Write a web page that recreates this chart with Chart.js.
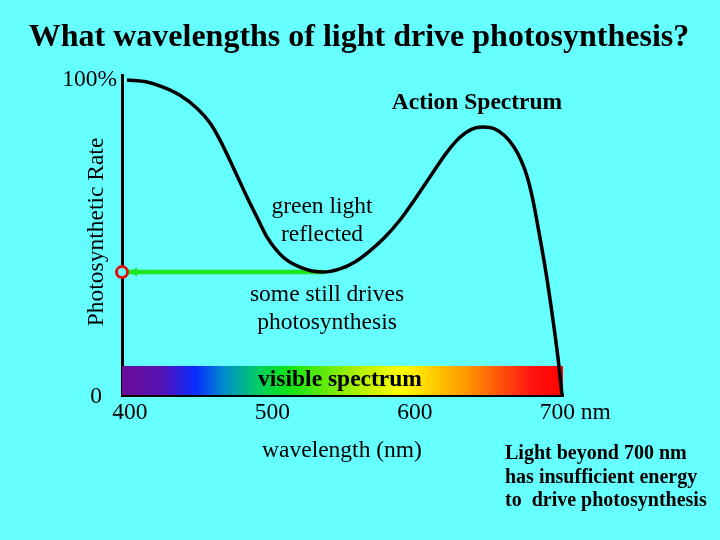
<!DOCTYPE html>
<html>
<head>
<meta charset="utf-8">
<script src="https://cdn.jsdelivr.net/npm/chart.js@4/dist/chart.umd.min.js"></script>
<style>
  html, body { margin: 0; padding: 0; background: #66ffff; }
  #wrap { width: 720px; height: 540px; position: relative; }
</style>
</head>
<body>
<div id="wrap"><canvas id="c" width="720" height="540"></canvas></div>
<script>
// ---- data ----
const wavelengths = [398, 412, 423.3, 435.2, 447.1, 456.3, 463.3, 472.4, 482.2, 489.2, 496.3, 507.5, 519.4, 535.6, 547.5, 558, 568.5, 579.1, 589.6, 600.1, 610.6, 622.6, 631.7, 640.1, 647.8, 656.3, 663.3, 669.6, 674.5, 678.7, 682.9, 687.1, 692, 697, 700.5, 703.3];
const rates       = [99.7, 99.1, 97.5, 94.9, 90.8, 86.1, 80.7, 72.2, 62.7, 56.3, 50.0, 43.7, 40.5, 38.9, 39.9, 42.1, 45.6, 50.0, 55.4, 62.0, 69.0, 76.9, 81.6, 84.2, 84.8, 84.2, 82.0, 78.5, 74.4, 69.3, 61.7, 51.6, 38.9, 23.7, 11.7, 0];
const tickValues  = [400, 500, 600, 700];
const tickLabels  = ['400', '500', '600', '700'];
const arrowFromNm = 536;     // green light minimum
const arrowToNm   = 394.5;   // axis
const arrowRate   = 38.9;
const spectrumNm     = [394.5, 421, 446, 467, 491, 512, 567, 591, 635, 682, 704];
const spectrumColors = ['#6a0f96', '#5a12b4', '#0a2cff', '#0090c8', '#00d060', '#12e412', '#c4f200', '#ffff00', '#ff9a00', '#ff1410', '#ff0000'];
const spectrumTopRate = 9.2;

const SERIF = '"Liberation Serif", "Times New Roman", serif';
const BG = '#66ffff';

const bgPlugin = {
  id: 'bg',
  beforeDraw(chart) {
    const ctx = chart.ctx;
    ctx.save();
    ctx.fillStyle = BG;
    ctx.fillRect(0, 0, chart.width, chart.height);
    ctx.restore();
  }
};

const spectrumPlugin = {
  id: 'spectrum',
  beforeDatasetsDraw(chart) {
    const ctx = chart.ctx, xs = chart.scales.x, ys = chart.scales.y;
    const x0 = xs.getPixelForValue(spectrumNm[0]);
    const x1 = xs.getPixelForValue(spectrumNm[spectrumNm.length - 1]);
    const yTop = ys.getPixelForValue(spectrumTopRate);
    const yBot = ys.getPixelForValue(0);
    const g = ctx.createLinearGradient(x0, 0, x1, 0);
    spectrumNm.forEach((nm, i) => {
      g.addColorStop((xs.getPixelForValue(nm) - x0) / (x1 - x0), spectrumColors[i]);
    });
    ctx.save();
    ctx.fillStyle = g;
    ctx.fillRect(x0, yTop, x1 - x0, yBot - yTop);
    ctx.restore();
  }
};

function txt(ctx, s, x, y, font, align) {
  ctx.font = font;
  ctx.textAlign = align || 'center';
  ctx.textBaseline = 'middle';
  ctx.fillText(s, x, y);
}

const annoPlugin = {
  id: 'anno',
  afterDatasetsDraw(chart) {
    const ctx = chart.ctx, xs = chart.scales.x, ys = chart.scales.y;
    ctx.save();
    // arrowhead
    const tipX = xs.getPixelForValue(arrowToNm) + 7;
    const ay = ys.getPixelForValue(arrowRate);
    ctx.fillStyle = '#1ee61e';
    ctx.beginPath();
    ctx.moveTo(tipX, ay);
    ctx.lineTo(tipX + 8, ay - 4.5);
    ctx.lineTo(tipX + 8, ay + 4.5);
    ctx.closePath();
    ctx.fill();

    ctx.fillStyle = '#000';
    const N = '23.5px ' + SERIF;
    const B = 'bold 23.5px ' + SERIF;
    // title
    txt(ctx, 'What wavelengths of light drive photosynthesis?', 359, 38, 'bold 32px ' + SERIF);
    // y labels
    txt(ctx, '100%', 117, 80, N, 'right');
    txt(ctx, '0', 96, 397, N);
    ctx.save();
    ctx.translate(97, 232);
    ctx.rotate(-Math.PI / 2);
    txt(ctx, 'Photosynthetic Rate', 0, 0, N);
    ctx.restore();
    // x tick labels
    tickValues.forEach((v, i) => {
      txt(ctx, tickLabels[i], xs.getPixelForValue(v), 413, N);
    });
    ctx.font = N;
    const w700 = ctx.measureText('700').width;
    txt(ctx, ' nm', xs.getPixelForValue(700) + w700 / 2, 413, N, 'left');
    txt(ctx, 'wavelength (nm)', 342, 451, N);
    // annotations
    txt(ctx, 'Action Spectrum', 477, 103, B);
    txt(ctx, 'green light', 322, 207, N);
    txt(ctx, 'reflected', 322, 235, N);
    txt(ctx, 'some still drives', 327, 295, N);
    txt(ctx, 'photosynthesis', 327, 323, N);
    txt(ctx, 'visible spectrum', 340, 380, B);
    const S = 'bold 20px ' + SERIF;
    txt(ctx, 'Light beyond 700 nm', 505, 454, S, 'left');
    txt(ctx, 'has insufficient energy', 505, 478, S, 'left');
    txt(ctx, 'to  drive photosynthesis', 505, 501, S, 'left');
    ctx.restore();
  }
};

new Chart(document.getElementById('c'), {
  type: 'line',
  data: {
    datasets: [
      {
        data: wavelengths.map((w, i) => ({ x: w, y: rates[i] })),
        borderColor: '#000',
        borderWidth: 3.5,
        pointRadius: 0,
        cubicInterpolationMode: 'monotone',
        fill: false,
        clip: false,
        order: 1
      },
      {
        data: [{ x: arrowToNm, y: arrowRate }, { x: arrowFromNm, y: arrowRate }],
        borderColor: '#1ee61e',
        borderWidth: 4.5,
        pointRadius: [5.5, 0],
        pointBorderWidth: 3,
        pointBorderColor: '#dd1111',
        pointBackgroundColor: BG,
        fill: false,
        clip: false,
        order: 2
      }
    ]
  },
  options: {
    responsive: false,
    animation: false,
    events: [],
    layout: { padding: { top: 75, right: 157, left: 0, bottom: 0 } },
    plugins: { legend: { display: false }, tooltip: { enabled: false }, title: { display: false } },
    scales: {
      x: {
        type: 'linear',
        min: 394.5,
        max: 704,
        grid: { display: false, drawTicks: false },
        border: { display: true, color: '#000', width: 3 },
        ticks: { display: false },
        afterFit(s) { s.height = 145; }
      },
      y: {
        min: 0,
        max: 101.3,
        grid: { display: false, drawTicks: false },
        border: { display: true, color: '#000', width: 3 },
        ticks: { display: false },
        afterFit(s) { s.width = 122; }
      }
    }
  },
  plugins: [bgPlugin, spectrumPlugin, annoPlugin]
});
</script>
</body>
</html>
